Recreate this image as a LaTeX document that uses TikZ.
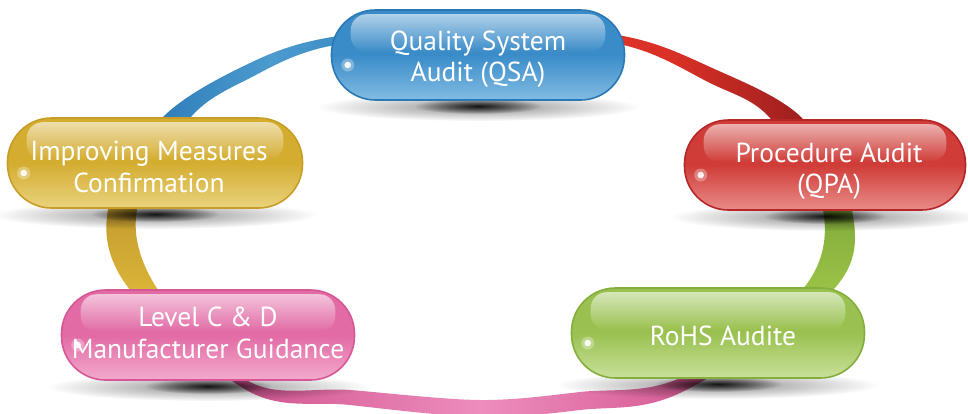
\documentclass[tikz,border=0pt]{standalone}
\usepackage{fontspec}
\setmainfont{PT Sans}
\usetikzlibrary{fadings,calc}
\tikzfading[name=gloss, top color=transparent!40, bottom color=transparent!100]
\tikzfading[name=shfade, inner color=transparent!0, outer color=transparent!100]

\definecolor{blueBase}{HTML}{3A8CC9}\definecolor{blueLight}{HTML}{82BCE3}\definecolor{blueBorder}{HTML}{2A78B4}
\definecolor{goldBase}{HTML}{D4AD30}\definecolor{goldLight}{HTML}{EAD27E}\definecolor{goldBorder}{HTML}{C79D26}
\definecolor{redBase}{HTML}{D03C38}\definecolor{redLight}{HTML}{E88C88}\definecolor{redBorder}{HTML}{B52628}
\definecolor{pinkBase}{HTML}{E26AA5}\definecolor{pinkLight}{HTML}{F3AACB}\definecolor{pinkBorder}{HTML}{D55795}
\definecolor{greenBase}{HTML}{9AC150}\definecolor{greenLight}{HTML}{C9E09A}\definecolor{greenBorder}{HTML}{84AE3C}

\definecolor{ringBlueD}{HTML}{1763A4}\definecolor{ringBlueL}{HTML}{4C9BCF}\definecolor{ringBlueM}{HTML}{2172B4}
\definecolor{ringRedL}{HTML}{EA3B2B}\definecolor{ringRedM}{HTML}{D83026}\definecolor{ringRedD}{HTML}{7E161C}
\definecolor{ringGreenD}{HTML}{62902C}\definecolor{ringGreenL}{HTML}{A5CB4C}
\definecolor{ringPinkD}{HTML}{C4417F}\definecolor{ringPinkL}{HTML}{EE8DBD}\definecolor{ringPinkR}{HTML}{C6407D}
\definecolor{ringGoldD}{HTML}{A87C26}\definecolor{ringGoldL}{HTML}{E2BE3A}

\newcommand\pillfont{\fontsize{27.5}{31.5}\selectfont}

\newcommand\ringouter{plot[smooth cycle, tension=0.55] coordinates {(480,24) (623,36) (710,67) (802,118) (852,210) (833,290) (680,393) (580,410) (480,417) (350,405) (250,392) (130,290) (108,210) (162,118) (250,63) (332,37)}}
\newcommand\ringinner{plot[smooth cycle, tension=0.55] coordinates {(480,33) (623,45) (710,83) (770,118) (823,210) (802,290) (680,378) (580,392) (480,400) (350,390) (250,382) (158,290) (137,210) (190,118) (250,78) (330,46)}}

% #1 name, #2 x, #3 y, #4 width, #5 base, #6 light, #7 border
\newcommand\glosspill[7]{%
  \fill[black, opacity=0.45, path fading=shfade] (#2,#3+52) ellipse ({0.55*#4} and 14);
  \fill[black, opacity=0.85, path fading=shfade] (#2,#3+51) ellipse ({0.22*#4} and 8);
  \node[pillbox, minimum width=#4pt, top color=#5, bottom color=#6, middle color=#5, draw=#7] (#1) at (#2,#3) {};
  \fill[white, path fading=gloss, rounded corners=16pt] ($(#1.north west)+(20,5)$) rectangle ($(#1.east)+(-20,-3)$);
  \fill[white, opacity=0.3] ($(#1.west)+(17,10)$) circle (6.5);
  \fill[white, opacity=0.9] ($(#1.west)+(17,10)$) circle (3.3);
}

\begin{document}
\begin{tikzpicture}[x=1pt,y=-1pt,
  pillbox/.style={rounded corners=44pt, minimum height=90pt, inner sep=0pt, line width=1.6pt},
  pilltext/.style={text=white, align=center, font=\pillfont, inner sep=0pt}]
\useasboundingbox (0,0) rectangle (968,413);

% ---- ring segments ----
\begin{scope}[even odd rule]
  \clip (480,220) -- (480,-600) -- (-600,-600) -- (-495,49) -- cycle;
  \clip \ringouter \ringinner;
  \shade[left color=ringBlueD, right color=ringBlueM, middle color=ringBlueL] (60,0) rectangle (480,230);
\end{scope}
\begin{scope}[even odd rule]
  \clip (480,220) -- (1515,55) -- (1600,-600) -- (480,-600) -- cycle;
  \clip \ringouter \ringinner;
  \shade[left color=ringRedL, right color=ringRedD, middle color=ringRedM] (480,0) rectangle (870,230);
\end{scope}
\begin{scope}[even odd rule]
  \clip (480,220) -- (1194,559) -- (1600,600) -- (1515,55) -- cycle;
  \clip \ringouter \ringinner;
  \shade[top color=ringGreenD, bottom color=ringGreenL] (760,110) rectangle (880,320);
\end{scope}
\begin{scope}[even odd rule]
  \clip (480,220) -- (-336,565) -- (-336,800) -- (1194,800) -- (1194,559) -- cycle;
  \clip \ringouter \ringinner;
  \shade[left color=ringPinkD, right color=ringPinkR, middle color=ringPinkL] (150,280) rectangle (810,430);
\end{scope}
\begin{scope}[even odd rule]
  \clip (480,220) -- (-495,49) -- (-600,700) -- (-336,565) -- cycle;
  \clip \ringouter \ringinner;
  \shade[top color=ringGoldD, bottom color=ringGoldL] (80,110) rectangle (200,320);
\end{scope}

% ---- pills ----
\glosspill{qsa}{478}{55}{293}{blueBase}{blueLight}{blueBorder}
\glosspill{imp}{155}{163}{295}{goldBase}{goldLight}{goldBorder}
\glosspill{qpa}{825}{165}{281}{redBase}{redLight}{redBorder}
\glosspill{lvl}{208}{335}{293}{pinkBase}{pinkLight}{pinkBorder}
\glosspill{rohs}{718}{333}{293}{greenBase}{greenLight}{greenBorder}

% ---- texts ----
\node[pilltext] (qsa-t) at (478,59) {Quality System\\Audit (QSA)};
\node[pilltext] (imp-t) at (149,167) {Improving Measures\\Confirmation};
\node[pilltext] (qpa-t) at (829,171) {Procedure Audit\\(QPA)};
\node[pilltext] (lvl-t) at (208,333) {Level C \& D\\Manufacturer Guidance};
\node[pilltext] (rohs-t) at (723,336) {RoHS Audite};
\end{tikzpicture}
\end{document}
